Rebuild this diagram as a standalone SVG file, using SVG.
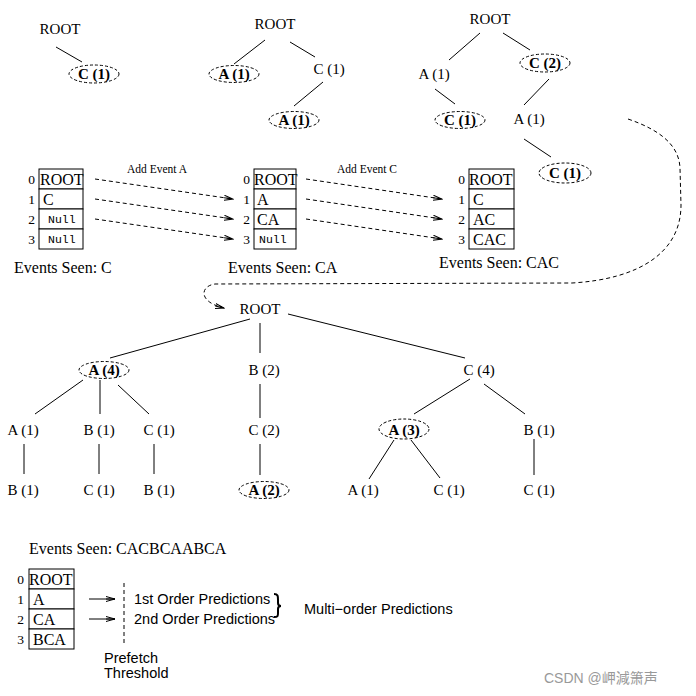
<svg xmlns="http://www.w3.org/2000/svg" width="696" height="696" viewBox="0 0 696 696">
<style>
.s{font-family:"Liberation Serif","Times New Roman",serif;font-size:15px;fill:#000}
.n{text-anchor:middle}
.b{font-weight:bold}
.t{font-family:"Liberation Serif","Times New Roman",serif;font-size:16px;fill:#000}
.i{font-family:"Liberation Serif","Times New Roman",serif;font-size:13.5px;fill:#000;text-anchor:end}
.m{font-family:"Liberation Mono","Courier New",monospace;font-size:11.5px;fill:#000}
.a{font-family:"Liberation Sans",Arial,sans-serif;font-size:14.5px;fill:#000}
.sm{font-family:"Liberation Serif","Times New Roman",serif;font-size:11.5px;fill:#000;text-anchor:middle}
line,path.e{stroke:#000;stroke-width:1;fill:none}
ellipse{fill:none;stroke:#000;stroke-width:1;stroke-dasharray:3 2}
rect{fill:#fff;stroke:#000;stroke-width:1}
.d{stroke:#000;stroke-width:1;fill:none;stroke-dasharray:4 3}
</style>
<defs>
<marker id="ah" markerWidth="10" markerHeight="6" refX="9" refY="3" orient="auto" markerUnits="userSpaceOnUse">
<path d="M0,0.5 L9,3 L0,5.5 M0,3 L9,3" fill="none" stroke="#000" stroke-width="1"/>
</marker>
</defs>

<g id="connectors">
<line x1="56" y1="47" x2="82" y2="62"/>
<line x1="265" y1="40" x2="234" y2="64"/>
<line x1="290" y1="42" x2="315" y2="57"/>
<line x1="323" y1="82" x2="294" y2="106"/>
<line x1="480" y1="33" x2="449" y2="60"/>
<line x1="503" y1="33" x2="530" y2="50"/>
<line x1="435" y1="89" x2="455" y2="104"/>
<line x1="549" y1="79" x2="524" y2="105"/>
<line x1="524" y1="139" x2="551" y2="157"/>
<path class="d" d="M95,179 L233,199" marker-end="url(#ah)"/>
<path class="d" d="M95,199 L233,219" marker-end="url(#ah)"/>
<path class="d" d="M95,219 L233,239" marker-end="url(#ah)"/>
<path class="d" d="M306,179 L442,199" marker-end="url(#ah)"/>
<path class="d" d="M306,199 L442,219" marker-end="url(#ah)"/>
<path class="d" d="M306,219 L442,239" marker-end="url(#ah)"/>
<path class="d" d="M628,119 C660,130 679,145 680,168 L681,205 C681,252 640,279 572,283 L215,284 C200,286 198,302 224,308" marker-end="url(#ah)"/>
<line x1="250" y1="319" x2="110" y2="358"/>
<line x1="260" y1="323" x2="260" y2="353"/>
<line x1="288" y1="314" x2="465" y2="358"/>
<line x1="83" y1="380" x2="35" y2="414"/>
<line x1="100" y1="380" x2="100" y2="414"/>
<line x1="118" y1="385" x2="149" y2="414"/>
<line x1="24" y1="444" x2="24" y2="474"/>
<line x1="99" y1="444" x2="99" y2="474"/>
<line x1="154" y1="444" x2="154" y2="474"/>
<line x1="260" y1="384" x2="260" y2="418"/>
<line x1="260" y1="444" x2="260" y2="475"/>
<line x1="470" y1="379" x2="414" y2="414"/>
<line x1="484" y1="384" x2="525" y2="414"/>
<line x1="394" y1="440" x2="369" y2="479"/>
<line x1="411" y1="440" x2="440" y2="478"/>
<line x1="534" y1="439" x2="534" y2="475"/>
<line x1="89" y1="599" x2="115" y2="599" marker-end="url(#ah)"/>
<line x1="89" y1="619" x2="115" y2="619" marker-end="url(#ah)"/>
<line class="d" x1="124" y1="583" x2="124" y2="643"/>
</g>

<g id="t1-root"><text class="s n" x="60" y="34">ROOT</text></g>
<g id="t1-c"><ellipse cx="94" cy="74" rx="25" ry="9"/><text class="s n b" x="94" y="79">C (1)</text></g>

<g id="t2-root"><text class="s n" x="275" y="29">ROOT</text></g>
<g id="t2-a"><ellipse cx="234" cy="74" rx="25" ry="8.5"/><text class="s n b" x="234" y="79">A (1)</text></g>
<g id="t2-c"><text class="s n" x="329" y="74">C (1)</text></g>
<g id="t2-ca"><ellipse cx="294" cy="120" rx="25" ry="8.5"/><text class="s n b" x="294" y="125">A (1)</text></g>

<g id="t3-root"><text class="s n" x="490" y="24">ROOT</text></g>
<g id="t3-a"><text class="s n" x="434" y="79">A (1)</text></g>
<g id="t3-c"><ellipse cx="545" cy="63" rx="25" ry="9"/><text class="s n b" x="545" y="68">C (2)</text></g>
<g id="t3-ac"><ellipse cx="460" cy="120" rx="25" ry="8.5"/><text class="s n b" x="460" y="125">C (1)</text></g>
<g id="t3-ca"><text class="s n" x="529" y="124">A (1)</text></g>
<g id="t3-cac"><ellipse cx="565" cy="173" rx="26" ry="10"/><text class="s n b" x="565" y="178">C (1)</text></g>

<text class="sm" x="157" y="173">Add Event A</text>
<text class="sm" x="367" y="173">Add Event C</text>

<g id="table1">
<rect x="39" y="169" width="44" height="20"/><rect x="39" y="189" width="44" height="20"/>
<rect x="39" y="209" width="44" height="20"/><rect x="39" y="229" width="44" height="20"/>
<text class="t" x="40" y="185">ROOT</text><text class="t" x="43" y="205">C</text>
<text class="m" x="48" y="223">Null</text><text class="m" x="48" y="243">Null</text>
<text class="i" x="35" y="184">0</text><text class="i" x="35" y="204">1</text>
<text class="i" x="35" y="224">2</text><text class="i" x="35" y="244">3</text>
<text class="t" x="14" y="273">Events Seen:  C</text>
</g>
<g id="table2">
<rect x="254" y="169" width="42" height="20"/><rect x="254" y="189" width="42" height="20"/>
<rect x="254" y="209" width="42" height="20"/><rect x="254" y="229" width="42" height="20"/>
<text class="t" x="254" y="185">ROOT</text><text class="t" x="257" y="205">A</text>
<text class="t" x="257" y="225">CA</text><text class="m" x="259" y="243">Null</text>
<text class="i" x="250" y="184">0</text><text class="i" x="250" y="204">1</text>
<text class="i" x="250" y="224">2</text><text class="i" x="250" y="244">3</text>
<text class="t" x="228" y="273">Events Seen:  CA</text>
</g>
<g id="table3">
<rect x="469" y="169" width="45" height="20"/><rect x="469" y="189" width="45" height="20"/>
<rect x="469" y="209" width="45" height="20"/><rect x="469" y="229" width="45" height="20"/>
<text class="t" x="469" y="185">ROOT</text><text class="t" x="473" y="205">C</text>
<text class="t" x="473" y="225">AC</text><text class="t" x="473" y="245">CAC</text>
<text class="i" x="465" y="184">0</text><text class="i" x="465" y="204">1</text>
<text class="i" x="465" y="224">2</text><text class="i" x="465" y="244">3</text>
<text class="t" x="439" y="268">Events Seen:  CAC</text>
</g>

<g id="b-root"><text class="s n" x="260" y="314">ROOT</text></g>
<g id="b-a"><ellipse cx="104" cy="370" rx="25" ry="8.5"/><text class="s n b" x="104" y="375">A (4)</text></g>
<g id="b-b"><text class="s n" x="264" y="375">B (2)</text></g>
<g id="b-c"><text class="s n" x="479" y="375">C (4)</text></g>
<g id="b-aa"><text class="s n" x="23" y="435">A (1)</text></g>
<g id="b-ab"><text class="s n" x="99" y="435">B (1)</text></g>
<g id="b-ac"><text class="s n" x="159" y="435">C (1)</text></g>
<g id="b-bc"><text class="s n" x="264" y="435">C (2)</text></g>
<g id="b-ca"><ellipse cx="404" cy="429" rx="25" ry="10"/><text class="s n b" x="404" y="435">A (3)</text></g>
<g id="b-cb"><text class="s n" x="539" y="435">B (1)</text></g>
<g id="b-aab"><text class="s n" x="23" y="495">B (1)</text></g>
<g id="b-abc"><text class="s n" x="99" y="495">C (1)</text></g>
<g id="b-acb"><text class="s n" x="159" y="495">B (1)</text></g>
<g id="b-bca"><ellipse cx="264" cy="490" rx="25" ry="8.5"/><text class="s n b" x="264" y="495">A (2)</text></g>
<g id="b-caa"><text class="s n" x="363" y="495">A (1)</text></g>
<g id="b-cac"><text class="s n" x="449" y="495">C (1)</text></g>
<g id="b-cbc"><text class="s n" x="539" y="495">C (1)</text></g>

<text class="t" x="29" y="554">Events Seen:  CACBCAABCA</text>
<g id="table4">
<rect x="29" y="569" width="45" height="20"/><rect x="29" y="589" width="45" height="20"/>
<rect x="29" y="609" width="45" height="20"/><rect x="29" y="629" width="45" height="20"/>
<text class="t" x="29" y="585">ROOT</text><text class="t" x="33" y="605">A</text>
<text class="t" x="33" y="625">CA</text><text class="t" x="33" y="645">BCA</text>
<text class="i" x="24" y="584">0</text><text class="i" x="24" y="604">1</text>
<text class="i" x="24" y="624">2</text><text class="i" x="24" y="644">3</text>
</g>
<g id="predictions">
<text class="a" x="134" y="604">1st Order Predictions</text>
<text class="a" x="134" y="624">2nd Order Predictions</text>
<path class="e" d="M274,594 C278,594 278,596 278,600 L278,603 C278,605 279,606 281,606 C279,606 278,607 278,609 L278,613 C278,616 278,617 274,617" style="stroke-width:2"/>
<text class="a" x="304" y="614">Multi−order Predictions</text>
<text class="a" x="104" y="663">Prefetch</text>
<text class="a" x="104" y="678">Threshold</text>
</g>
<text x="544" y="683" style="font-family:'Liberation Sans','Noto Sans CJK SC',sans-serif;font-size:14px;fill:#999">CSDN @岬減箫声</text>
</svg>
